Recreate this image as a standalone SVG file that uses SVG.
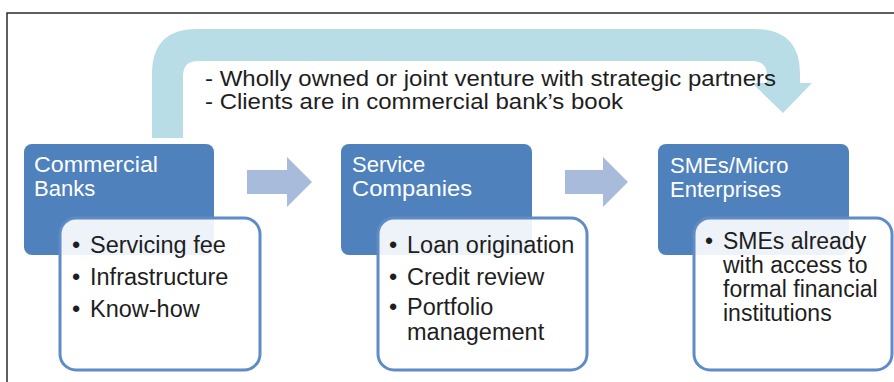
<svg xmlns="http://www.w3.org/2000/svg" width="894" height="382" viewBox="0 0 894 382">
<style>
.frame{fill:none;stroke:#2a2a2a;stroke-width:1.5}
.hdr{fill:#4f81bd}
.body{fill:#ffffff;fill-opacity:0.9;stroke:#5f8cc6;stroke-width:3}
.ht{font-family:"Liberation Sans",Arial,sans-serif;font-size:22px;fill:#ffffff}
.bt{font-family:"Liberation Sans",Arial,sans-serif;font-size:23.5px;fill:#1e1e1e}
.bt3{font-family:"Liberation Sans",Arial,sans-serif;font-size:23px;fill:#1e1e1e}
.tt{font-family:"Liberation Sans",Arial,sans-serif;font-size:22px;fill:#1e1e1e}
.arr{fill:#a8bbdb}
.loop{fill:#b8dde6}
</style>
<rect x="0" y="0" width="894" height="382" fill="#ffffff"/>
<path class="frame" d="M7,382 L7,13 L894,13"/>
<g id="connectors">
<path class="loop" d="M152,138 L152,74 Q152,29 197,29 L755,29 Q800,29 800,74 L800,83 L812,83 L783,113 L752,83 L767,83 L767,76 Q767,61 752,61 L198,61 Q183,61 183,76 L183,138 Z"/>
<path class="arr" d="M247,170 L287,170 L287,157 L312,182 L287,207 L287,194 L247,194 Z"/>
<path class="arr" d="M565,170 L603,170 L603,157 L628,182 L603,207 L603,194 L565,194 Z"/>
</g>
<g id="loop-label">
<text class="tt" x="205" y="86" textLength="571" lengthAdjust="spacingAndGlyphs">- Wholly owned or joint venture with strategic partners</text>
<text class="tt" x="205" y="109" textLength="418" lengthAdjust="spacingAndGlyphs">- Clients are in commercial bank’s book</text>
</g>
<g id="commercial-banks">
<rect class="hdr" x="24" y="144" width="190" height="111" rx="8"/>
<text class="ht" x="34" y="172" textLength="124" lengthAdjust="spacingAndGlyphs">Commercial</text>
<text class="ht" x="34" y="196">Banks</text>
<rect class="body" x="60" y="218" width="200" height="152" rx="16"/>
<text class="bt" x="72" y="253">•</text><text class="bt" x="90" y="253">Servicing fee</text>
<text class="bt" x="72" y="285">•</text><text class="bt" x="90" y="285">Infrastructure</text>
<text class="bt" x="72" y="317">•</text><text class="bt" x="90" y="317">Know-how</text>
</g>
<g id="service-companies">
<rect class="hdr" x="341" y="144" width="191" height="111" rx="8"/>
<text class="ht" x="352" y="172">Service</text>
<text class="ht" x="352" y="196" textLength="120" lengthAdjust="spacingAndGlyphs">Companies</text>
<rect class="body" x="378" y="218" width="209" height="152" rx="16"/>
<text class="bt" x="389" y="253">•</text><text class="bt" x="407" y="253">Loan origination</text>
<text class="bt" x="389" y="285">•</text><text class="bt" x="407" y="285">Credit review</text>
<text class="bt" x="389" y="315">•</text><text class="bt" x="407" y="315">Portfolio</text>
<text class="bt" x="407" y="340">management</text>
</g>
<g id="smes">
<rect class="hdr" x="658" y="144" width="191" height="111" rx="8"/>
<text class="ht" x="670" y="173">SMEs/Micro</text>
<text class="ht" x="670" y="197">Enterprises</text>
<rect class="body" x="694" y="218" width="198" height="152" rx="16"/>
<text class="bt3" x="705" y="249">•</text><text class="bt3" x="723" y="249">SMEs already</text>
<text class="bt3" x="723" y="273">with access to</text>
<text class="bt3" x="723" y="297">formal financial</text>
<text class="bt3" x="723" y="321">institutions</text>
</g>
</svg>
